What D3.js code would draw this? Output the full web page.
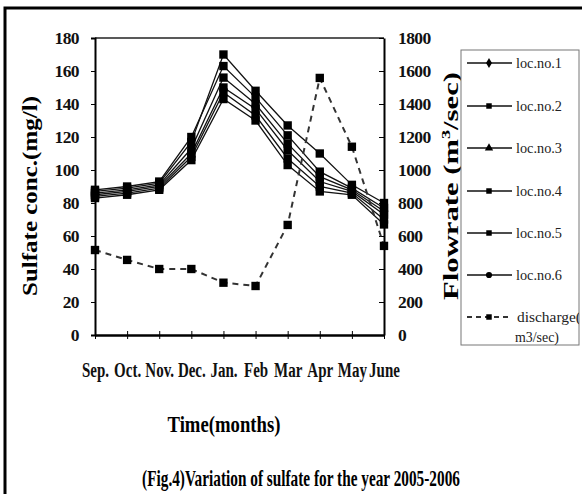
<!DOCTYPE html>
<html><head><meta charset="utf-8">
<script src="https://cdn.jsdelivr.net/npm/d3@7"></script>
<style>html,body{margin:0;padding:0;background:#fff;}svg{display:block;}</style>
</head><body>
<script>
const months = ["Sep.","Oct.","Nov.","Dec.","Jan.","Feb","Mar","Apr","May","June"];
const loc1 = [88, 90, 93, 120, 163, 144, 121, 99, 89, 77];
const loc2 = [87, 89, 92, 117, 170, 148, 127, 110, 91, 80];
const loc3 = [86, 88, 91, 113, 156, 140, 116, 96, 88, 75];
const loc4 = [85, 87, 90, 110, 150, 137, 112, 93, 87, 73];
const loc5 = [84, 86, 89, 108, 147, 133, 107, 90, 86, 70];
const loc6 = [83, 85, 88, 106, 143, 130, 103, 87, 85, 67];
const discharge = [515, 455, 400, 400, 317, 297, 667, 1558, 1141, 540];
const leftTicks = [0,20,40,60,80,100,120,140,160,180];
const rightTicks = [0,200,400,600,800,1000,1200,1400,1600,1800];
const seriesNames = ["loc.no.1","loc.no.2","loc.no.3","loc.no.4","loc.no.5","loc.no.6"];
const seriesValues = [loc1, loc2, loc3, loc4, loc5, loc6];
const seriesSymbols = [d3.symbolDiamond, d3.symbolSquare, d3.symbolTriangle, d3.symbolSquare, d3.symbolSquare, d3.symbolCircle];

const W = 582, H = 494;
const svg = d3.select("body").append("svg").attr("width", W).attr("height", H);
const serif = "'Liberation Serif', 'DejaVu Serif', serif";

// outer frame
svg.append("rect").attr("x", 5).attr("y", 8).attr("width", 600).attr("height", 520)
  .attr("fill", "none").attr("stroke", "#000").attr("stroke-width", 3);

const x = d3.scalePoint().domain(months).range([95, 384]);
const yL = d3.scaleLinear().domain([0, 180]).range([335, 38]);
const yR = d3.scaleLinear().domain([0, 1800]).range([335, 38]);

// plot frame top
svg.append("line").attr("x1", 95).attr("x2", 384).attr("y1", 38).attr("y2", 38)
  .attr("stroke", "#222").attr("stroke-width", 1.5);

// left axis
const gL = svg.append("g").attr("transform", "translate(95,0)")
  .call(d3.axisLeft(yL).tickValues(leftTicks).tickSize(4).tickPadding(12));
gL.select(".domain").attr("stroke-width", 2);
gL.selectAll("text").attr("font-family", serif).attr("font-weight", "bold").attr("font-size", 17.5)
  .attr("fill", "#111").attr("letter-spacing", -0.6);

// right axis (ticks inside)
const gR = svg.append("g").attr("transform", "translate(384,0)")
  .call(d3.axisRight(yR).tickValues(rightTicks).tickFormat(d3.format("d")).tickSize(0).tickPadding(14));
gR.select(".domain").attr("stroke-width", 2);
gR.selectAll(".tick").append("line").attr("x1", -5).attr("x2", 0).attr("stroke", "#000");
gR.selectAll("text").attr("font-family", serif).attr("font-weight", "bold").attr("font-size", 17.5)
  .attr("fill", "#111").attr("letter-spacing", -0.6);

// bottom axis
const gB = svg.append("g").attr("transform", "translate(0,335)")
  .call(d3.axisBottom(x).tickSize(0).tickPadding(28));
gB.select(".domain").attr("stroke-width", 2.5);
gB.selectAll(".tick").append("line").attr("y1", -4).attr("y2", 4).attr("stroke", "#000");
gB.selectAll("text").attr("font-family", serif).attr("font-weight", "bold").attr("font-size", 15)
  .attr("fill", "#111").attr("y", 0).attr("dy", 0)
  .attr("transform", "translate(0,42) scale(1,1.35)");

// sulfate lines
const lineL = d3.line().x((d, i) => x(months[i])).y(d => yL(d));
seriesValues.forEach((vals) => {
  svg.append("path").datum(vals).attr("d", lineL).attr("fill", "none")
    .attr("stroke", "#111").attr("stroke-width", 1.3);
});
seriesValues.forEach((vals) => {
  svg.selectAll(null).data(vals).enter().append("path")
    .attr("d", d3.symbol().type(d3.symbolSquare).size(70))
    .attr("transform", (d, i) => `translate(${x(months[i])},${yL(d)})`)
    .attr("fill", "#000");
});

// discharge
const lineR = d3.line().x((d, i) => x(months[i])).y(d => yR(d));
svg.append("path").datum(discharge).attr("d", lineR).attr("fill", "none")
  .attr("stroke", "#333").attr("stroke-width", 2).attr("stroke-dasharray", "6,5");
svg.selectAll(null).data(discharge).enter().append("path")
  .attr("d", d3.symbol().type(d3.symbolSquare).size(70))
  .attr("transform", (d, i) => `translate(${x(months[i])},${yR(d)})`)
  .attr("fill", "#000");

// axis titles
svg.append("text").attr("transform", "translate(37,196) rotate(-90)")
  .attr("text-anchor", "middle").attr("font-family", serif).attr("font-weight", "bold")
  .attr("font-size", 22).attr("textLength", 200).attr("lengthAdjust", "spacingAndGlyphs")
  .text("Sulfate conc.(mg/l)");
const rt = svg.append("text").attr("transform", "translate(458,186) rotate(-90)")
  .attr("text-anchor", "middle").attr("font-family", serif).attr("font-weight", "bold")
  .attr("font-size", 22).attr("textLength", 228).attr("lengthAdjust", "spacingAndGlyphs");
rt.append("tspan").text("Flowrate (m");
rt.append("tspan").attr("font-size", 13).attr("dy", -8).text("3");
rt.append("tspan").attr("dy", 8).text("/sec)");

function scaledText(str, cx, baseY, size, targetW, sy) {
  const t = svg.append("text").attr("x", 0).attr("y", 0).attr("text-anchor", "middle")
    .attr("font-family", serif).attr("font-weight", "bold").attr("font-size", size).text(str);
  const len = t.node().getComputedTextLength();
  t.attr("transform", `translate(${cx},${baseY}) scale(${targetW / len},${sy})`);
  return t;
}
scaledText("Time(months)", 224, 432, 17, 113, 1.35);
scaledText("(Fig.4)Variation of sulfate for the year  2005-2006", 301, 486, 17, 318, 1.3);

// legend
const lg = svg.append("g");
lg.append("rect").attr("x", 461).attr("y", 50).attr("width", 118).attr("height", 295)
  .attr("fill", "#fff").attr("stroke", "#777").attr("stroke-width", 1);
const clip = svg.append("clipPath").attr("id", "lgclip");
clip.append("rect").attr("x", 461).attr("y", 50).attr("width", 118).attr("height", 295);
const lgc = lg.append("g").attr("clip-path", "url(#lgclip)");
const legY = [63, 106, 148, 191, 233, 275];
seriesNames.forEach((n, i) => {
  const yy = legY[i];
  lgc.append("line").attr("x1", 467).attr("x2", 512).attr("y1", yy).attr("y2", yy)
    .attr("stroke", "#111").attr("stroke-width", 1.5);
  lgc.append("path").attr("d", d3.symbol().type(seriesSymbols[i]).size(30))
    .attr("transform", `translate(489,${yy})`).attr("fill", "#000");
  lgc.append("text").attr("x", 516).attr("y", yy + 5).attr("font-family", serif)
    .attr("font-size", 15).attr("fill", "#222").attr("textLength", 46).attr("lengthAdjust", "spacingAndGlyphs").text(n);
});
lgc.append("line").attr("x1", 467).attr("x2", 512).attr("y1", 317).attr("y2", 317)
  .attr("stroke", "#333").attr("stroke-width", 2).attr("stroke-dasharray", "5,4");
lgc.append("path").attr("d", d3.symbol().type(d3.symbolSquare).size(30))
  .attr("transform", "translate(489,317)").attr("fill", "#000");
lgc.append("text").attr("x", 517).attr("y", 322).attr("font-family", serif)
  .attr("font-size", 15).attr("fill", "#222").attr("textLength", 64).attr("lengthAdjust", "spacingAndGlyphs").text("discharge(");
lgc.append("text").attr("x", 515).attr("y", 342).attr("font-family", serif)
  .attr("font-size", 15).attr("fill", "#222").attr("textLength", 44).attr("lengthAdjust", "spacingAndGlyphs").text("m3/sec)");
</script>
</body></html>
